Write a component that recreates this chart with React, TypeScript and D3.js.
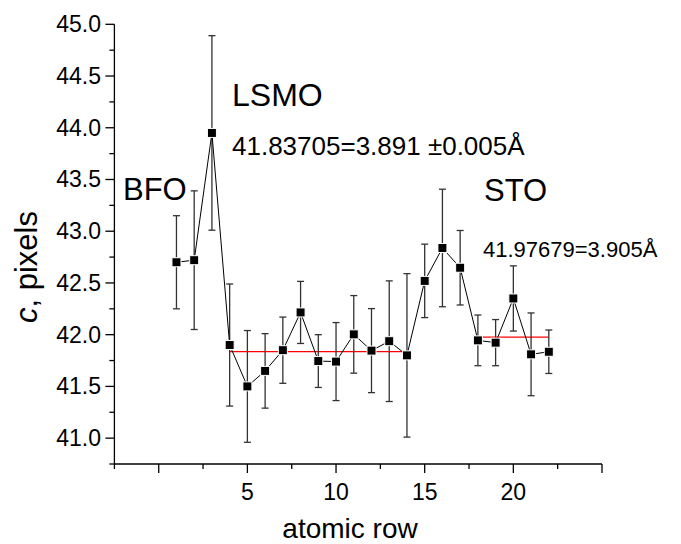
import React from "react";
import * as d3 from "d3";

const rows = [1, 2, 3, 4, 5, 6, 7, 8, 9, 10, 11, 12, 13, 14, 15, 16, 17, 18, 19, 20, 21, 22];
const cValues = [42.70, 42.72, 43.95, 41.90, 41.50, 41.65, 41.85, 42.215, 41.745, 41.74, 42.003, 41.846, 41.937, 41.80, 42.52, 42.838, 42.647, 41.945, 41.923, 42.35, 41.81, 41.835];
const cErrors = [0.45, 0.67, 0.94, 0.59, 0.54, 0.36, 0.32, 0.30, 0.255, 0.377, 0.375, 0.406, 0.583, 0.79, 0.355, 0.568, 0.36, 0.245, 0.223, 0.315, 0.40, 0.21];

const fitFrom = [4, 18];
const fitTo = [14, 22];
const fitValues = [41.83705, 41.97679];

const xMajorTicks = [0, 5, 10, 15, 20, 25];
const xMinorTicks = [-2.5, 2.5, 7.5, 12.5, 17.5, 22.5];
const xTickLabels = [5, 10, 15, 20];
const yMajorTicks = [41.0, 41.5, 42.0, 42.5, 43.0, 43.5, 44.0, 44.5, 45.0];
const yMinorTicks = [40.75, 41.25, 41.75, 42.25, 42.75, 43.25, 43.75, 44.25, 44.75];

const FONT = "'Liberation Sans', Arial, Helvetica, sans-serif";

export default function App() {
  const x = d3.scaleLinear().domain([-2.5, 25]).range([114.4, 602]);
  const y = d3.scaleLinear().domain([40.75, 45]).range([464, 24.3]);
  const pts = rows.map((r, i) => ({ r, v: cValues[i], e: cErrors[i] }));
  const line = d3
    .line<{ r: number; v: number }>()
    .x((d) => x(d.r))
    .y((d) => y(d.v));
  const x0 = x(-2.5);
  const y0 = y(40.75);

  return (
    <svg
      width={681}
      height={544}
      style={{ position: "absolute", left: 0, top: 0, background: "#fff" }}
      fontFamily={FONT}
    >
      <rect width={681} height={544} fill="#fff" />
      {/* axes */}
      <line x1={x0} x2={x(25)} y1={y0} y2={y0} stroke="#000" strokeWidth={1.3} />
      <line x1={x0} x2={x0} y1={y(45)} y2={y0} stroke="#000" strokeWidth={1.3} />
      {xMajorTicks.map((t) => (
        <line key={"xM" + t} x1={x(t)} x2={x(t)} y1={y0} y2={y0 + 9} stroke="#000" strokeWidth={1.3} />
      ))}
      {xMinorTicks.map((t) => (
        <line key={"xm" + t} x1={x(t)} x2={x(t)} y1={y0} y2={y0 + 5} stroke="#000" strokeWidth={1.3} />
      ))}
      {xTickLabels.map((t) => (
        <text key={"xl" + t} x={x(t)} y={500} fontSize={23} textAnchor="middle" fill="#000">
          {t}
        </text>
      ))}
      {yMajorTicks.map((t) => (
        <line key={"yM" + t} x1={x0 - 9} x2={x0} y1={y(t)} y2={y(t)} stroke="#000" strokeWidth={1.3} />
      ))}
      {yMinorTicks.map((t) => (
        <line key={"ym" + t} x1={x0 - 5} x2={x0} y1={y(t)} y2={y(t)} stroke="#000" strokeWidth={1.3} />
      ))}
      {yMajorTicks.map((t) => (
        <text key={"yl" + t} x={101} y={y(t) + 8} fontSize={23} textAnchor="end" fill="#000">
          {t.toFixed(1)}
        </text>
      ))}
      {/* axis titles */}
      <text x={350} y={538} fontSize={28} textAnchor="middle" fill="#000">
        atomic row
      </text>
      <text
        transform={`translate(37,267) rotate(-90)`}
        fontSize={31}
        textAnchor="middle"
        fill="#000"
      >
        <tspan fontStyle="italic">c</tspan>
        <tspan>, pixels</tspan>
      </text>

      {/* fit lines */}
      {fitValues.map((v, i) => (
        <line
          key={"fit" + i}
          x1={x(fitFrom[i])}
          x2={x(fitTo[i])}
          y1={y(v)}
          y2={y(v)}
          stroke="#ff0000"
          strokeWidth={1.3}
        />
      ))}

      {/* error bars */}
      {pts.map((d) => (
        <g key={"eb" + d.r} stroke="#333" strokeWidth={1.3}>
          <line x1={x(d.r)} x2={x(d.r)} y1={y(d.v + d.e)} y2={y(d.v - d.e)} />
          <line x1={x(d.r) - 3.5} x2={x(d.r) + 3.5} y1={y(d.v + d.e)} y2={y(d.v + d.e)} />
          <line x1={x(d.r) - 3.5} x2={x(d.r) + 3.5} y1={y(d.v - d.e)} y2={y(d.v - d.e)} />
        </g>
      ))}

      {/* connecting line */}
      <path d={line(pts) || ""} fill="none" stroke="#000" strokeWidth={1} />

      {/* markers */}
      {pts.map((d) => (
        <rect
          key={"m" + d.r}
          x={x(d.r) - 4.5}
          y={y(d.v) - 4.5}
          width={9}
          height={9}
          fill="#000"
          stroke="#fff"
          strokeWidth={1}
        />
      ))}

      {/* annotations */}
      <text x={123} y={200} fontSize={31} fill="#000">BFO</text>
      <text x={232} y={106} fontSize={32} fill="#000">LSMO</text>
      <text x={484} y={201} fontSize={31} fill="#000">STO</text>
      <text x={232} y={155} fontSize={26} fill="#000">41.83705=3.891 ±0.005Å</text>
      <text x={483} y={257} fontSize={22} fill="#000">41.97679=3.905Å</text>
    </svg>
  );
}
